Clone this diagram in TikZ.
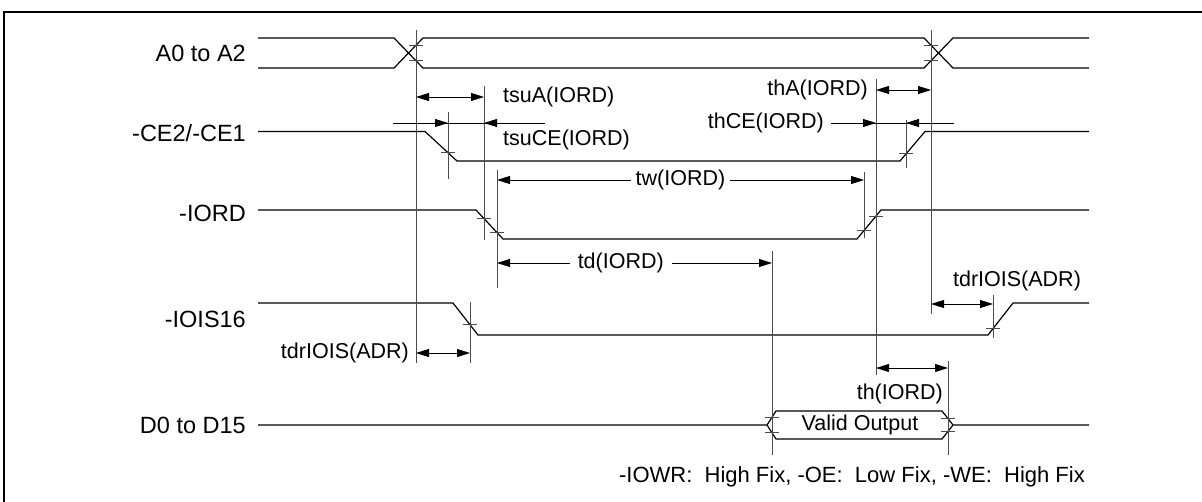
\documentclass[tikz,border=0pt]{standalone}
\usepackage{fontspec}
\setmainfont{Liberation Sans}
\usetikzlibrary{arrows.meta}

\tikzset{
  lbl/.style={font=\fontsize{21.5}{25}\selectfont, inner sep=0pt},
  signame/.style={font=\fontsize{23.5}{27}\selectfont, inner sep=0pt, anchor=east},
  sig/.style={line width=1.2pt},
  guide/.style={line width=0.9pt, black!70},
  edgetick/.style={line width=0.9pt, black!70},
  dim/.style={line width=0.8pt, {Triangle[length=13pt,width=8pt]}-{Triangle[length=13pt,width=8pt]}},
  arr/.style={line width=0.8pt, -{Triangle[length=13pt,width=8pt]}},
}
\newcommand{\tickat}[2]{\draw[edgetick] (#1-7,#2) -- (#1+7,#2);}

\begin{document}
\begin{tikzpicture}[x=1pt,y=-1pt]
\useasboundingbox (0,0) rectangle (1202,502);
\draw[line width=1.4pt] (4,506) -- (4,12) -- (1206,12);

% signal names
\node[signame] (nA) at (246,53) {A0 to A2};
\node[signame] (nCE) at (246,133) {-CE2/-CE1};
\node[signame] (nRD) at (246,213) {-IORD};
\node[signame] (nIS) at (246,319) {-IOIS16};
\node[signame] (nD) at (246,425) {D0 to D15};

% waveforms
\draw[sig] (258,38) -- (394,38) -- (423,68) -- (924,68) -- (953,38) -- (1089,38);
\draw[sig] (258,68) -- (394,68) -- (423,38) -- (924,38) -- (953,68) -- (1089,68);
\draw[sig] (258,131.5) -- (425,131.5) -- (457,161) -- (900,161) -- (925,131.5) -- (1089,131.5);
\draw[sig] (258,210) -- (476,210) -- (503,239) -- (857,239) -- (881,210) -- (1089,210);
\draw[sig] (258,303) -- (453,303) -- (478,335) -- (988,335) -- (1013,303) -- (1089,303);
\draw[sig] (258,425) -- (767,425) -- (776,411) -- (942,411) -- (953,425) -- (1089,425);
\draw[sig] (767,425) -- (776,439) -- (942,439) -- (953,425);
\node[lbl] (vo) at (860,425) {Valid Output};

% guide lines
\draw[guide] (416,30) -- (416,363);
\draw[guide] (448,112) -- (448,179);
\draw[guide] (484,86) -- (484,240);
\draw[guide] (497,170) -- (497,288);
\draw[guide] (470,302) -- (470,363);
\draw[guide] (772,251) -- (772,455);
\draw[guide] (864,172) -- (864,238);
\draw[guide] (876,79) -- (876,375);
\draw[guide] (906,120) -- (906,168);
\draw[guide] (931,30) -- (931,314);
\draw[guide] (948,361) -- (948,455);
\draw[guide] (993,295) -- (993,338);

% crossing marks
\tickat{416}{45.2} \tickat{416}{60.8}
\tickat{931}{45.2} \tickat{931}{60.8}
\tickat{448}{152.7} \tickat{906}{153.9}
\tickat{484}{218.6} \tickat{497}{232.5}
\tickat{864}{230.5} \tickat{876}{216}
\tickat{470}{324.8} \tickat{993}{328.6}
\tickat{772}{417.2} \tickat{772}{432.8}
\tickat{948}{418.6} \tickat{948}{431.4}

% timings
\draw[dim] (416,97) -- (484,97);
\node[lbl,anchor=west] (tsuA) at (503,97) {tsuA(IORD)};
\draw[line width=0.8pt] (393,123) -- (545,123);
\draw[arr] (393,123) -- (448,123);
\draw[arr] (545,123) -- (484,123);
\node[lbl,anchor=west] (tsuCE) at (503,140) {tsuCE(IORD)};
\draw[dim] (876,90) -- (931,90);
\node[lbl,anchor=east] (thA) at (868,90) {thA(IORD)};
\draw[line width=0.8pt] (831,123) -- (954,123);
\draw[arr] (831,123) -- (876,123);
\draw[arr] (954,123) -- (906,123);
\node[lbl,anchor=east] (thCE) at (824,123) {thCE(IORD)};
\draw[dim] (497,180) -- (864,180)
  node[lbl,midway,fill=white,inner xsep=5pt] (tw) {tw(IORD)};
\draw[dim] (497,263) -- (772,263)
  node[lbl,pos=0.45,fill=white,inner xsep=8pt] (td) {td(IORD)};
\draw[dim] (931,304) -- (993,304);
\node[lbl] (tdrR) at (1017,281) {tdrIOIS(ADR)};
\draw[dim] (416,353) -- (470,353);
\node[lbl,anchor=east] (tdrL) at (409,353) {tdrIOIS(ADR)};
\draw[dim] (876,368) -- (948,368);
\node[lbl,anchor=east] (th) at (943,394) {th(IORD)};

\node[lbl,font=\fontsize{22}{26}\selectfont,anchor=east] (note) at (1085,477) {-IOWR:\ \ High Fix, -OE:\ \ Low Fix, -WE:\ \ High Fix};
\end{tikzpicture}
\end{document}
